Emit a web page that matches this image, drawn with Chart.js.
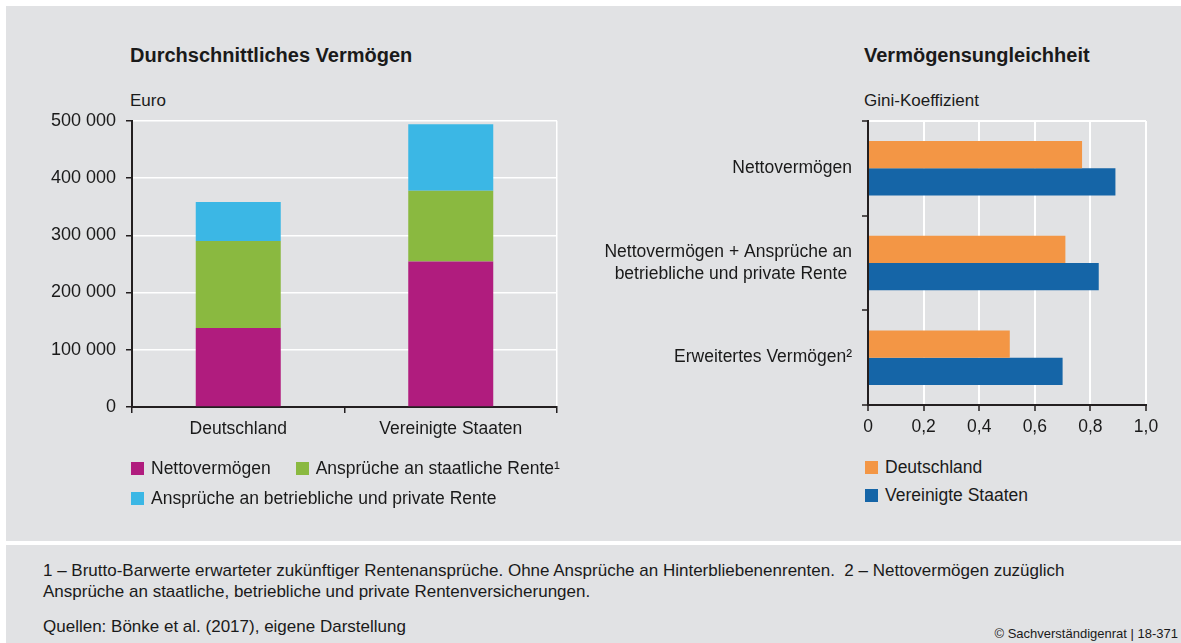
<!DOCTYPE html>
<html lang="de">
<head>
<meta charset="utf-8">
<script src="https://cdn.jsdelivr.net/npm/chart.js@4.4.1/dist/chart.umd.min.js"></script>
<style>
  body { margin: 0; width: 1181px; height: 643px; background: #fff; position: relative; overflow: hidden;
         font-family: "Liberation Sans", Arial, sans-serif; color: #1a1a1a; }
  .panel { position: absolute; left: 6px; right: 0; background: #e1e2e4; }
  #panelTop { top: 6px; height: 535px; }
  #panelBottom { top: 545px; bottom: 0; }
  .abs { position: absolute; white-space: nowrap; }
  .title { font-weight: bold; font-size: 20px; line-height: 1; }
  .unit { font-size: 17px; line-height: 1; }
  .legend { position: absolute; display: flex; font-size: 17.5px; line-height: 20px; }
  #legendLeft { left: 131px; top: 458px; width: 450px; flex-wrap: wrap; column-gap: 25px; row-gap: 10px; }
  #legendRight { left: 865px; top: 457px; flex-direction: column; row-gap: 8px; }
  .item { display: flex; align-items: center; white-space: nowrap; }
  .box { width: 13px; height: 13px; margin-right: 7px; flex: none; }
  .note { left: 43px; font-size: 17px; line-height: 21px; }
  canvas { position: absolute; }
</style>
</head>
<body>
<div class="panel" id="panelTop"></div>
<div class="panel" id="panelBottom"></div>

<div class="abs title" style="left:130px; top:45px;">Durchschnittliches Vermögen</div>
<div class="abs unit" style="left:130px; top:92px;">Euro</div>
<div class="abs title" style="left:864px; top:45px;">Vermögensungleichheit</div>
<div class="abs unit" style="left:864px; top:92px;">Gini-Koeffizient</div>

<canvas id="chartLeft" width="560" height="360" style="left:20px; top:100px;"></canvas>
<canvas id="chartRight" width="590" height="350" style="left:580px; top:100px;"></canvas>

<div class="legend" id="legendLeft"></div>
<div class="legend" id="legendRight"></div>

<div class="abs note" style="top:560px;">1 – Brutto-Barwerte erwarteter zukünftiger Rentenansprüche. Ohne Ansprüche an Hinterbliebenenrenten.&nbsp; 2 – Nettovermögen zuzüglich<br>Ansprüche an staatliche, betriebliche und private Rentenversicherungen.</div>
<div class="abs note" style="top:616px;">Quellen: Bönke et al. (2017), eigene Darstellung</div>
<div class="abs" style="right:3px; top:627px; font-size:13px; line-height:1;">© Sachverständigenrat | 18-371</div>

<script>
// Durchschnittliches Vermögen (Euro)
const laender = ['Deutschland', 'Vereinigte Staaten'];
const nettovermoegen = [138000, 254000];
const staatlicheRente = [152000, 124000];
const betrieblicheRente = [68000, 116000];
const euroTicks = [0, 100000, 200000, 300000, 400000, 500000];

// Vermögensungleichheit (Gini-Koeffizient)
const giniKategorien = [
  'Nettovermögen',
  ['Nettovermögen + Ansprüche an', 'betriebliche und private Rente '],
  'Erweitertes Vermögen²'
];
const giniDeutschland = [0.77, 0.71, 0.51];
const giniUSA = [0.89, 0.83, 0.70];
const giniTicks = [0, 0.2, 0.4, 0.6, 0.8, 1.0];

const magenta = '#b01c7e';
const gruen = '#8ab940';
const hellblau = '#3bb7e5';
const orange = '#f39645';
const blau = '#1565a7';
const achse = '#231f20';

Chart.defaults.font.family = '"Liberation Sans", Arial, sans-serif';
Chart.defaults.font.size = 17.5;
Chart.defaults.color = '#1a1a1a';

const euroFormat = v => String(v).replace(/\B(?=(\d{3})+(?!\d))/g, ' ');

const leftChart = new Chart(document.getElementById('chartLeft'), {
  type: 'bar',
  data: {
    labels: laender,
    datasets: [
      { label: 'Nettovermögen', data: nettovermoegen, backgroundColor: magenta },
      { label: 'Ansprüche an staatliche Rente¹', data: staatlicheRente, backgroundColor: gruen },
      { label: 'Ansprüche an betriebliche und private Rente', data: betrieblicheRente, backgroundColor: hellblau }
    ]
  },
  options: {
    responsive: false,
    animation: false,
    devicePixelRatio: 1,
    layout: { padding: { top: 20, right: 23, left: 0, bottom: 0 } },
    plugins: { legend: { display: false }, tooltip: { enabled: false } },
    datasets: { bar: { barPercentage: 0.4, categoryPercentage: 1.0 } },
    scales: {
      x: {
        stacked: true,
        afterFit: s => { s.height = 53; },
        border: { color: achse, width: 2 },
        grid: {
          offset: true,
          color: ctx => ctx.type === 'tick' ? 'rgba(0,0,0,0)' : '#ffffff',
          lineWidth: 1.5,
          tickColor: achse,
          tickWidth: 1.5,
          tickLength: 6
        },
        ticks: { padding: 6 }
      },
      y: {
        stacked: true,
        min: 0,
        max: 500000,
        afterFit: s => { s.width = 112; },
        afterBuildTicks: s => { s.ticks = euroTicks.map(v => ({ value: v })); },
        border: { color: achse, width: 2 },
        grid: {
          color: ctx => ctx.tick && ctx.tick.value === 0 ? 'rgba(0,0,0,0)' : '#ffffff',
          lineWidth: 1.5,
          tickColor: achse,
          tickWidth: 1.5,
          tickLength: 6
        },
        ticks: { padding: 10, font: { size: 18 }, callback: v => euroFormat(v) }
      }
    }
  }
});

const rightChart = new Chart(document.getElementById('chartRight'), {
  type: 'bar',
  data: {
    labels: giniKategorien,
    datasets: [
      { label: 'Deutschland', data: giniDeutschland, backgroundColor: orange },
      { label: 'Vereinigte Staaten', data: giniUSA, backgroundColor: blau }
    ]
  },
  options: {
    indexAxis: 'y',
    responsive: false,
    animation: false,
    devicePixelRatio: 1,
    layout: { padding: { top: 16, right: 24, left: 0, bottom: 0 } },
    plugins: { legend: { display: false }, tooltip: { enabled: false } },
    datasets: { bar: { barPercentage: 1.0, categoryPercentage: 0.575 } },
    scales: {
      x: {
        min: 0,
        max: 1,
        afterFit: s => { s.height = 45; },
        afterBuildTicks: s => { s.ticks = giniTicks.map(v => ({ value: v })); },
        border: { color: achse, width: 2 },
        grid: {
          color: ctx => ctx.tick && ctx.tick.value === 0 ? 'rgba(0,0,0,0)' : '#ffffff',
          lineWidth: 2,
          tickColor: achse,
          tickWidth: 1.5,
          tickLength: 6
        },
        ticks: { padding: 6, callback: v => v === 0 ? '0' : v.toFixed(1).replace('.', ',') }
      },
      y: {
        afterFit: s => { s.width = 288; },
        border: { color: achse, width: 2 },
        grid: {
          offset: true,
          color: ctx => ctx.type === 'tick' && ctx.index === 0 ? '#ffffff' : 'rgba(0,0,0,0)',
          lineWidth: 2,
          tickColor: achse,
          tickWidth: 1.5,
          tickLength: 6
        },
        ticks: { padding: 10, font: { lineHeight: 1.25 } }
      }
    }
  }
});

function buildLegend(chart, el) {
  chart.data.datasets.forEach(ds => {
    const item = document.createElement('div');
    item.className = 'item';
    const box = document.createElement('span');
    box.className = 'box';
    box.style.background = ds.backgroundColor;
    const text = document.createElement('span');
    text.textContent = ds.label;
    item.appendChild(box);
    item.appendChild(text);
    el.appendChild(item);
  });
}
buildLegend(leftChart, document.getElementById('legendLeft'));
buildLegend(rightChart, document.getElementById('legendRight'));
</script>
</body>
</html>
